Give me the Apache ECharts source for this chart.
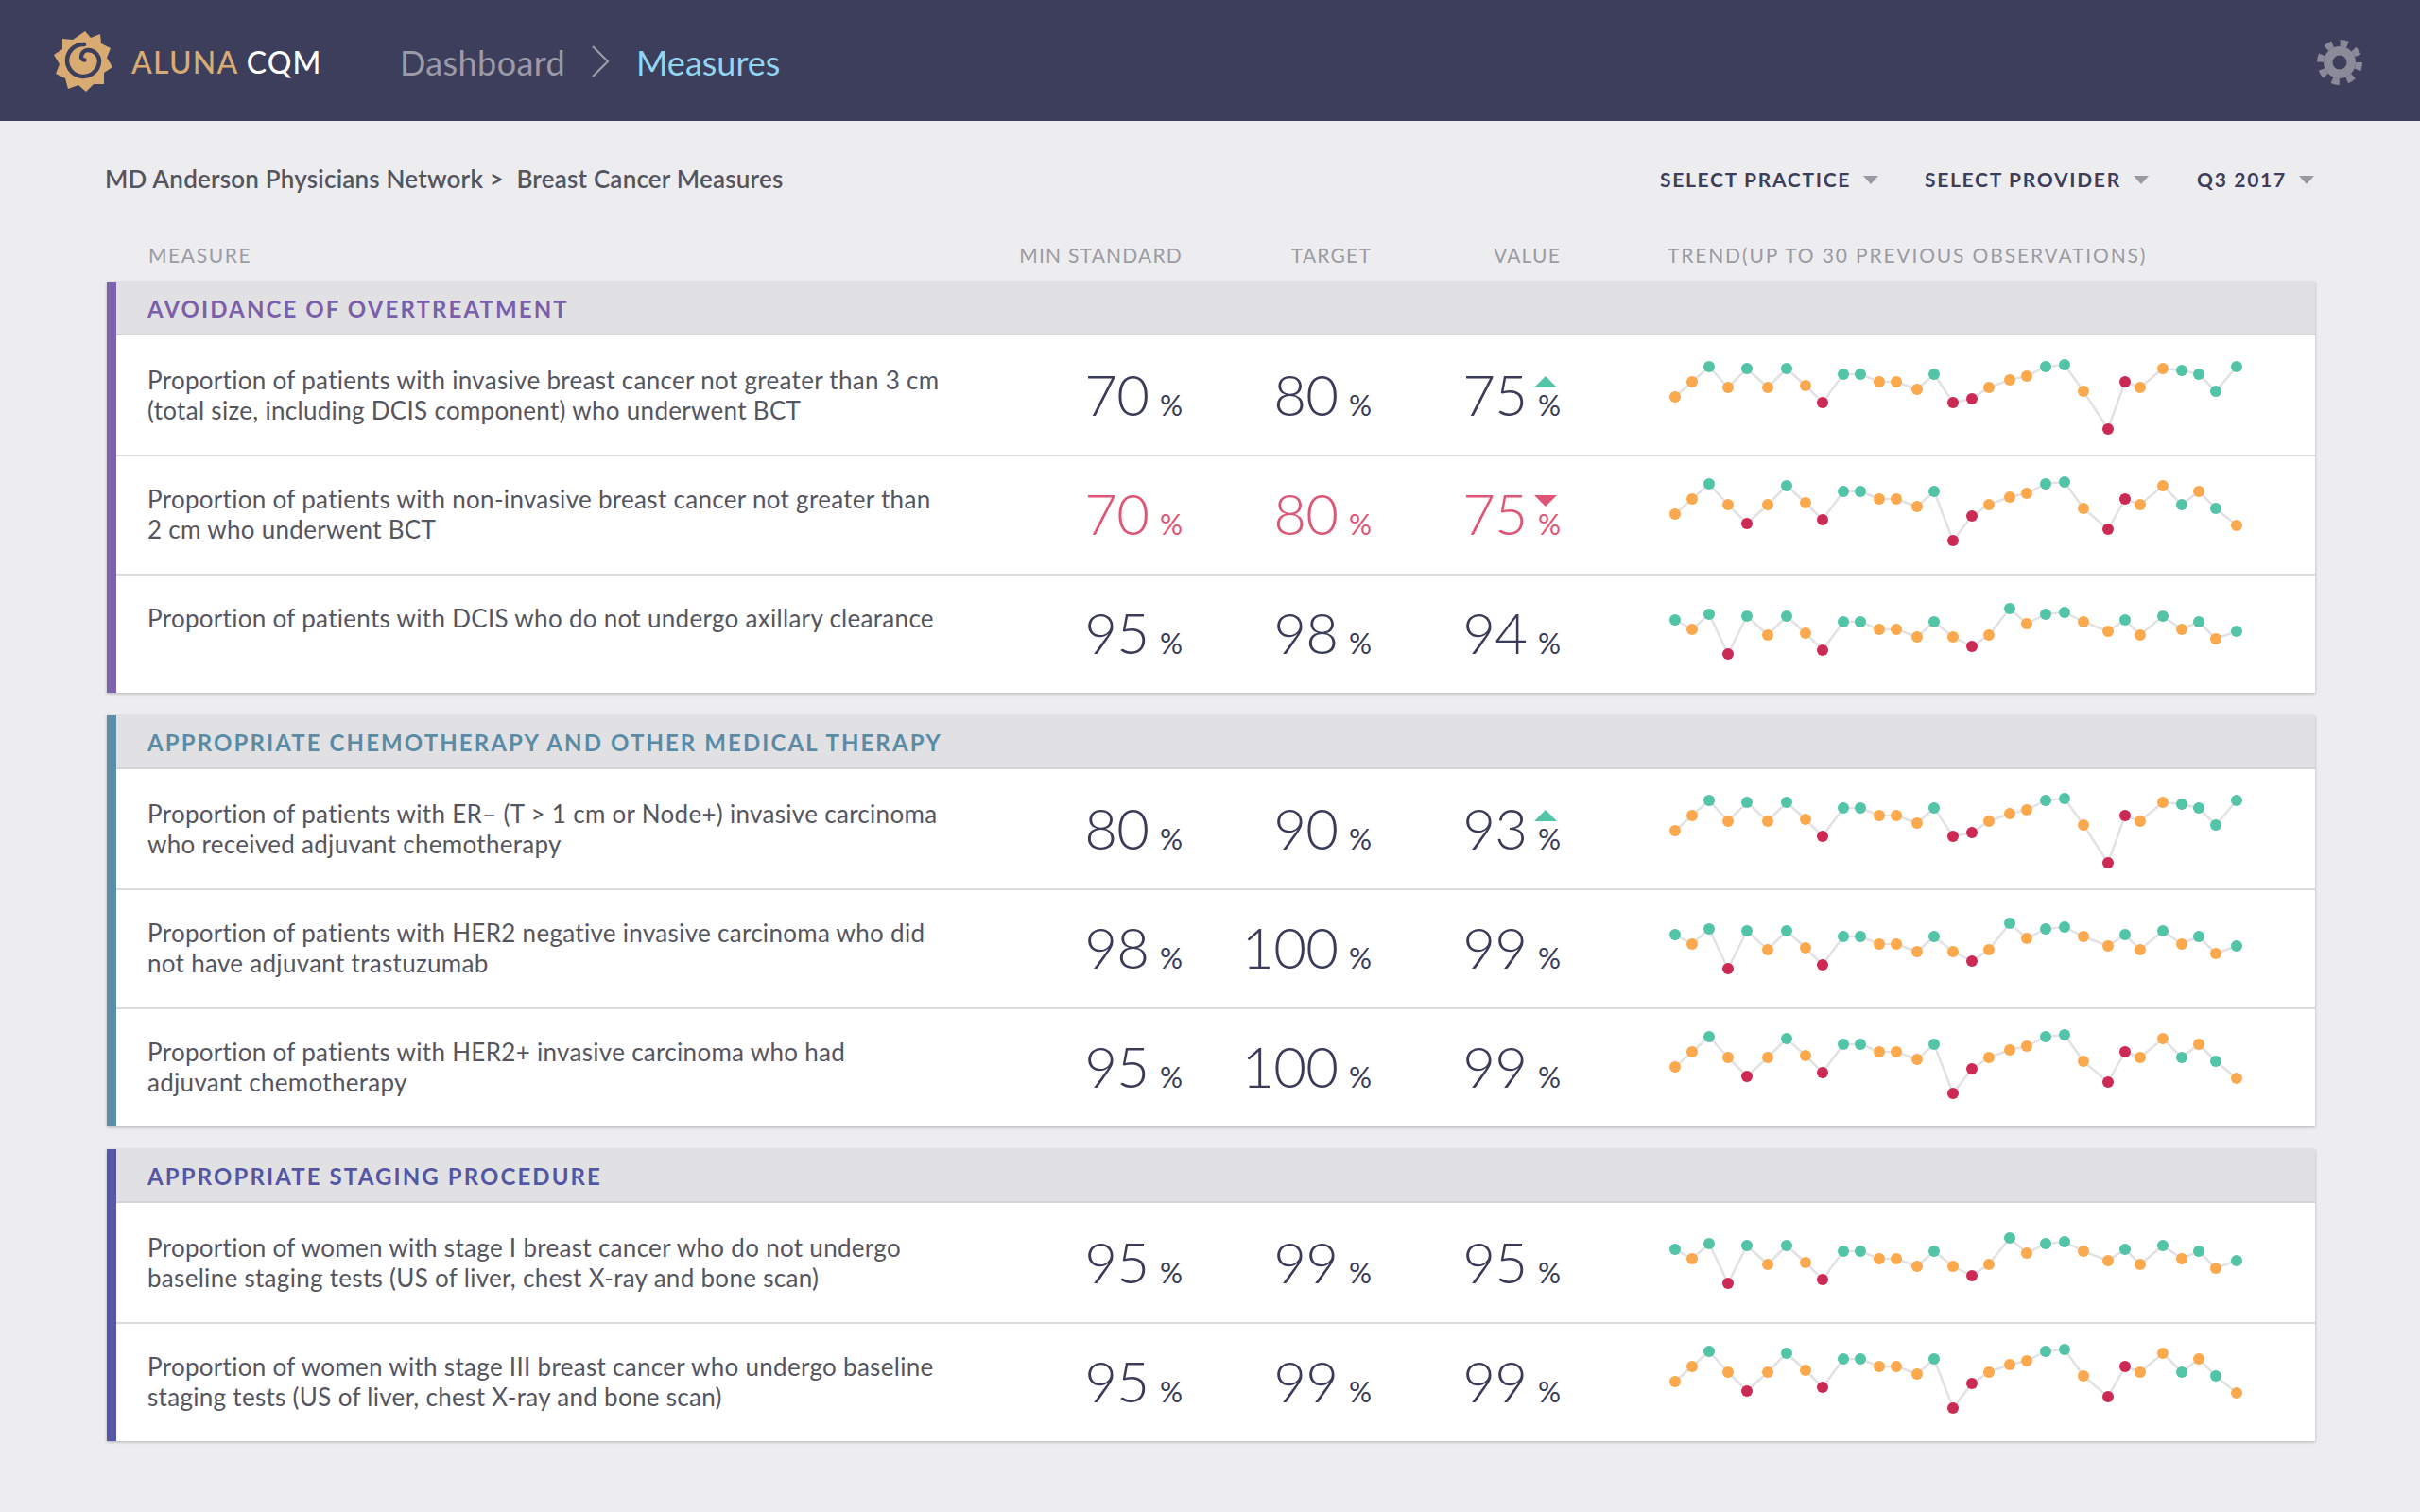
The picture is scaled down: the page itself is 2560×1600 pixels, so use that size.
<!DOCTYPE html>
<html>
<head>
<meta charset="utf-8">
<title>Breast Cancer Measures</title>
<script src="https://cdn.jsdelivr.net/npm/echarts/dist/echarts.min.js"></script>
<style>
  html, body { margin: 0; padding: 0; }
  body { width: 2560px; height: 1600px; background: #ededf0; position: relative; overflow: hidden;
         font-family: Lato, "Noto Sans", sans-serif; }
  .abs { position: absolute; white-space: nowrap; }
  .topbar { left: 0; top: 0; width: 2560px; height: 128px; background: #3d3d5c; }
  .colhead { font-size: 21px; letter-spacing: 1.6px; color: #9b9ba3; line-height: 30px; top: 255px; }
  .filter { font-size: 21px; letter-spacing: 1.7px; color: #3d3d5c; font-weight: 700; line-height: 30px; top: 175px; }
  .caret { display: inline-block; width: 0; height: 0; border-left: 8px solid transparent; border-right: 8px solid transparent;
           border-top: 9px solid #9a9aa2; margin-left: 13px; vertical-align: middle; position: relative; top: -2px; }
  .card { left: 113px; width: 2336px; background: #fff; box-shadow: 0 1px 3px rgba(0,0,0,0.25); }
  .ghead { left: 0; top: 0; width: 2336px; height: 55px; background: #e1e1e4; border-bottom: 2px solid #d4d4d8; }
  .gtitle { left: 43px; top: 0; line-height: 57px; font-size: 24px; letter-spacing: 2.1px; font-weight: 700; }
  .bar { left: 0; top: 0; width: 10px; }
  .row { left: 0; width: 2336px; height: 126px; }
  .row.sep { border-top: 2px solid #dcdcdf; height: 124px; }
  .desc { left: 43px; top: 31px; font-size: 26px; letter-spacing: 0.3px; line-height: 32px; color: #55555f; white-space: pre; }
  .num { top: 30px; height: 64px; font-weight: 300; display: flex; align-items: baseline; justify-content: flex-end; width: 200px; }
  .num .big { font-size: 60px; line-height: 64px; letter-spacing: -1px; }
  .num .pct { font-size: 30px; margin-left: 12px; font-weight: 400; }
  .tri { position: absolute; width: 0; height: 0; border-left: 12px solid transparent; border-right: 12px solid transparent; }
  .spark { left: 1647px; top: 0; width: 620px; height: 126px; }
</style>
</head>
<body>
<script>
// ---- data ----
const groupTitles = ['AVOIDANCE OF OVERTREATMENT',
                     'APPROPRIATE CHEMOTHERAPY AND OTHER MEDICAL THERAPY',
                     'APPROPRIATE STAGING PROCEDURE'];
const measureGroup = [0, 0, 0, 1, 1, 1, 2, 2];
const measureText = [
  'Proportion of patients with invasive breast cancer not greater than 3 cm\n(total size, including DCIS component) who underwent BCT',
  'Proportion of patients with non-invasive breast cancer not greater than\n2 cm who underwent BCT',
  'Proportion of patients with DCIS who do not undergo axillary clearance',
  'Proportion of patients with ER\u2013 (T > 1 cm or Node+) invasive carcinoma\nwho received adjuvant chemotherapy',
  'Proportion of patients with HER2 negative invasive carcinoma who did\nnot have adjuvant trastuzumab',
  'Proportion of patients with HER2+ invasive carcinoma who had\nadjuvant chemotherapy',
  'Proportion of women with stage I breast cancer who do not undergo\nbaseline staging tests (US of liver, chest X-ray and bone scan)',
  'Proportion of women with stage III breast cancer who undergo baseline\nstaging tests (US of liver, chest X-ray and bone scan)'
];
const minStandard = [70, 70, 95, 80, 98, 95, 95, 95];
const targetValue = [80, 80, 98, 90, 100, 100, 99, 99];
const currentValue = [75, 75, 94, 93, 99, 99, 95, 99];
const valueChange = ['up', 'down', '', 'up', '', '', '', ''];
const rowAlert = [false, true, false, false, false, false, false, false];

// trend observations (days since first observation)
const obsDays = [0, 18, 36, 56, 76, 98, 118, 138, 156, 178, 196, 216, 234, 256, 274, 294,
                 314, 332, 354, 372, 392, 412, 432, 458, 476, 492, 516, 536, 554, 572, 594];
const trendA = [45, 61, 77, 55, 75, 55, 75, 57, 39, 69, 69, 61, 61, 53, 69, 39,
                43, 55, 63, 67, 77, 79, 51, 11, 61, 55, 75, 73, 69, 51, 77];
const statusA = 'oogogogorggooogrrooogg orrooggggog'.replace(/ /g, '');
const trendB = [47, 63, 79, 57, 37, 57, 77, 59, 41, 71, 71, 63, 63, 55, 71, 19,
                45, 57, 65, 69, 79, 81, 53, 31, 63, 57, 77, 57, 71, 53, 35];
const statusB = 'oogorogorggooogrrooogg orroogogor'.replace(/ /g, '');
const trendC = [61, 51, 67, 25, 65, 45, 65, 47, 29, 59, 59, 51, 51, 43, 59, 43,
                33, 45, 73, 57, 67, 69, 59, 49, 61, 45, 65, 51, 59, 41, 49];
const statusC = 'gogrgogorggooogorogoggoogogogog';
const trendSets = [[trendA, statusA], [trendB, statusB], [trendC, statusC]];
const rowTrend = [0, 1, 2, 0, 2, 1, 2, 1];

// ---- styles ----
const groupColors = ['#7d62ae', '#5d8ea9', '#5657a6'];
const groupTitleColors = ['#7a5fab', '#5a8ba6', '#5455a3'];
const statusColor = { g: '#52c4a7', o: '#fca84c', r: '#cc2955' };
const numColor = '#3a3b58', alertColor = '#df5575';
const groupTops = [298, 757, 1216];
const HEAD_H = 57, ROW_H = 126;
const colRights = [1138, 1338, 1538];

function el(tag, cls, parent, css, html) {
  const d = document.createElement(tag);
  if (cls) d.className = cls;
  if (css) Object.assign(d.style, css);
  if (html !== undefined) d.innerHTML = html;
  (parent || document.body).appendChild(d);
  return d;
}

// ---- top bar ----
el('div', 'abs topbar');
el('div', 'abs', null, { left: '54px', top: '30px' },
  '<svg width="68" height="70" viewBox="0 0 68 70">' +
  '<path d="M36 3 L42 10 L52 6 L53 16 L63 21 L59 31 L65 41 L56 47 L56 59 L45 59 L37 67 L29 60 L18 64 L15 53 L5 48 L9 38 L3 28 L12 22 L12 11 L23 12 Z" fill="#d8ab73"/>' +
  '<path d="M35 17 A17 17 0 1 0 51 35 A12 12 0 0 0 39 23 A7 7 0 0 0 32 30 A3.5 3.5 0 0 0 35.5 33.5" fill="none" stroke="#3d3d5c" stroke-width="4.5" stroke-linecap="round"/>' +
  '</svg>');
el('div', 'abs', null, { left: '139px', top: '34px', lineHeight: '64px', fontSize: '32px', letterSpacing: '1.2px', fontWeight: 500 },
  '<span style="color:#d8ab73">ALUNA</span> <span style="color:#ffffff">CQM</span>');
el('div', 'abs', null, { left: '423px', top: '34px', lineHeight: '64px', fontSize: '36px', color: '#9b9ba8', letterSpacing: '0.4px' }, 'Dashboard');
el('div', 'abs', null, { left: '624px', top: '47px' },
  '<svg width="24" height="36"><polyline points="3,2 19,18 3,34" fill="none" stroke="#9b9ba8" stroke-width="2.2"/></svg>');
el('div', 'abs', null, { left: '673px', top: '34px', lineHeight: '64px', fontSize: '36px', color: '#92d5f1', letterSpacing: '0px' }, 'Measures');
el('div', 'abs', null, { left: '2449px', top: '40px' },
  '<svg width="52" height="52" viewBox="0 0 52 52">' +
  '<circle cx="26" cy="26" r="20.5" fill="none" stroke="#8a8a98" stroke-width="7" stroke-dasharray="8 8.1"/>' +
  '<circle cx="26" cy="26" r="17" fill="#8a8a98"/><circle cx="26" cy="26" r="7.5" fill="#3d3d5c"/></svg>');

// ---- breadcrumb and filters ----
el('div', 'abs', null, { left: '111px', top: '174px', lineHeight: '30px', fontSize: '26px', letterSpacing: '0.2px', color: '#55555f', fontWeight: 600 },
  'MD Anderson Physicians Network &gt;&nbsp; Breast Cancer Measures');
const filters = ['SELECT PRACTICE', 'SELECT PROVIDER', 'Q3 2017'];
const filterLefts = [1756, 2036, 2324];
filters.forEach((f, i) => el('div', 'abs filter', null, { left: filterLefts[i] + 'px' }, f + '<span class="caret"></span>'));

// ---- column headers ----
el('div', 'abs colhead', null, { left: '157px' }, 'MEASURE');
['MIN STANDARD', 'TARGET', 'VALUE'].forEach((t, i) =>
  el('div', 'abs colhead', null, { left: (colRights[i] + 113 - 400) + 'px', width: '400px', textAlign: 'right', letterSpacing: '1.2px' }, t));
el('div', 'abs colhead', null, { left: '1764px', letterSpacing: '1.85px' }, 'TREND(UP TO 30 PREVIOUS OBSERVATIONS)');

// ---- groups ----
const charts = [];
groupTitles.forEach((title, g) => {
  const rows = measureGroup.map((mg, i) => mg === g ? i : -1).filter(i => i >= 0);
  const card = el('div', 'abs card', null, { top: groupTops[g] + 'px', height: (HEAD_H + rows.length * ROW_H) + 'px' });
  const head = el('div', 'abs ghead', card);
  el('div', 'abs gtitle', head, { color: groupTitleColors[g] }, title);
  rows.forEach((ri, k) => {
    const row = el('div', 'abs row' + (k > 0 ? ' sep' : ''), card, { top: (HEAD_H + k * ROW_H) + 'px' });
    const off = k > 0 ? -2 : 0;
    el('div', 'abs desc', row, { top: (31 + off) + 'px' }).textContent = measureText[ri];
    const color = rowAlert[ri] ? alertColor : numColor;
    [minStandard[ri], targetValue[ri], currentValue[ri]].forEach((v, c) => {
      el('div', 'abs num', row, { left: (colRights[c] - 200) + 'px', top: (30 + off) + 'px', color: color },
        '<span class="big">' + v + '</span><span class="pct">%</span>');
      if (c === 2 && valueChange[ri]) {
        const up = valueChange[ri] === 'up';
        el('div', 'tri', row, up
          ? { left: (colRights[c] - 28) + 'px', top: (43 + off) + 'px', borderBottom: '12px solid #52c4a7' }
          : { left: (colRights[c] - 28) + 'px', top: (43 + off) + 'px', borderTop: '12px solid ' + alertColor });
      }
    });
    const sp = el('div', 'abs spark', row, { top: off + 'px' });
    const [vals, status] = trendSets[rowTrend[ri]];
    const chart = echarts.init(sp);
    chart.setOption({
      animation: false,
      grid: { left: 12, top: 10, width: 594, height: 100 },
      xAxis: { type: 'value', min: 0, max: 594, show: false },
      yAxis: { type: 'value', min: 0, max: 100, show: false },
      series: [{
        type: 'line',
        symbol: 'circle',
        symbolSize: 12,
        lineStyle: { color: '#e2e2e4', width: 2.5 },
        data: obsDays.map((d, i) => ({ value: [d, vals[i]], itemStyle: { color: statusColor[status[i]] } }))
      }]
    });
    charts.push(chart);
  });
  el('div', 'abs bar', card, { height: (HEAD_H + rows.length * ROW_H) + 'px', background: groupColors[g] });
});
</script>
</body>
</html>
